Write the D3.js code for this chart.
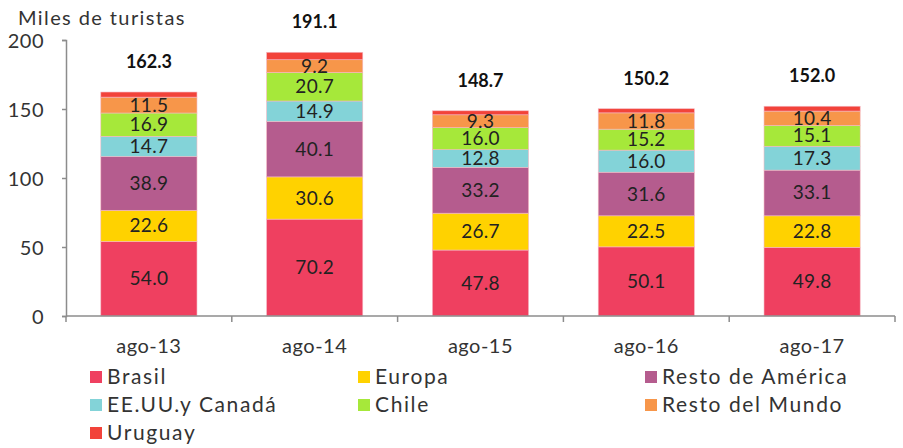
<!DOCTYPE html>
<html lang="es">
<head>
<meta charset="utf-8">
<title>Turistas</title>
<script src="https://d3js.org/d3.v7.min.js"></script>
<style>
body { margin: 0; background: #fff; }
text { font-family: Lato, "Open Sans", sans-serif; fill: #333; }
.axis path, .axis line { stroke: #8c8c8c; stroke-width: 1.5; }
.axis text { font-size: 20px; fill: #333; letter-spacing: 0.5px; }
</style>
</head>
<body>
<svg width="903" height="448"></svg>
<script>
var categories = ["ago-13", "ago-14", "ago-15", "ago-16", "ago-17"];
var seriesNames = ["Brasil", "Europa", "Resto de América", "EE.UU.y Canadá", "Chile", "Resto del Mundo", "Uruguay"];
var colors = ["#ef4060", "#ffd200", "#b55c8e", "#83d3d8", "#a6e83a", "#f7964a", "#f2433a"];

var brasil = [54.0, 70.2, 47.8, 50.1, 49.8];
var europa = [22.6, 30.6, 26.7, 22.5, 22.8];
var restoAmerica = [38.9, 40.1, 33.2, 31.6, 33.1];
var eeuuCanada = [14.7, 14.9, 12.8, 16.0, 17.3];
var chile = [16.9, 20.7, 16.0, 15.2, 15.1];
var restoMundo = [11.5, 9.2, 9.3, 11.8, 10.4];
var uruguay = [3.7, 5.4, 2.9, 3.0, 3.5];
var totals = [162.3, 191.1, 148.7, 150.2, 152.0];
var yTicks = [0, 50, 100, 150, 200];

var seriesValues = [brasil, europa, restoAmerica, eeuuCanada, chile, restoMundo, uruguay];

var rows = categories.map(function(c, i) {
  var r = {cat: c};
  seriesNames.forEach(function(s, j) { r[s] = seriesValues[j][i]; });
  return r;
});

var svg = d3.select("svg");
var margin = {left: 66, right: 8, top: 40, bottom: 132};
var width = 903 - margin.left - margin.right,
    height = 448 - margin.top - margin.bottom;

var g = svg.append("g").attr("transform", "translate(" + margin.left + "," + margin.top + ")");

var x = d3.scaleBand().domain(categories).range([0, width]).paddingInner(0.42).paddingOuter(0.21);
var xb = d3.scaleBand().domain(categories).range([0, width]);
var y = d3.scaleLinear().domain([0, 200]).range([height, 0]);

var stacked = d3.stack().keys(seriesNames)(rows);

var layer = g.selectAll(".layer").data(stacked).enter().append("g")
    .attr("fill", function(d, i) { return colors[i]; });

layer.selectAll("rect").data(function(d) { return d; }).enter().append("rect")
    .attr("x", function(d) { return x(d.data.cat); })
    .attr("width", x.bandwidth())
    .attr("y", function(d) { return y(d[1]); })
    .attr("height", function(d) { return y(d[0]) - y(d[1]); })
    .attr("stroke", "#f5b8c4")
    .attr("stroke-width", 0.6);

// etiquetas de cada tramo (sin Uruguay)
stacked.forEach(function(s, si) {
  if (si === 6) return;
  g.selectAll(".lbl" + si).data(s).enter().append("text")
      .attr("x", function(d) { return x(d.data.cat) + x.bandwidth() / 2; })
      .attr("y", function(d) { return (y(d[0]) + y(d[1])) / 2 + 6.5; })
      .attr("text-anchor", "middle")
      .style("font-size", "19px")
      .style("letter-spacing", "0.3px")
      .style("fill", "#222")
      .text(function(d) { return d3.format(".1f")(d[1] - d[0]); });
});

// totales
g.selectAll(".total").data(categories).enter().append("text")
    .attr("x", function(d) { return x(d) + x.bandwidth() / 2; })
    .attr("y", function(d, i) { return y(totals[i]) - 24; })
    .attr("text-anchor", "middle")
    .style("font-size", "18px")
    .style("font-weight", "bold")
    .style("fill", "#111")
    .text(function(d, i) { return d3.format(".1f")(totals[i]); });

// eje y
var yAxis = g.append("g").attr("class", "axis")
    .call(d3.axisLeft(y).tickValues(yTicks).tickSize(4).tickSizeOuter(4).tickPadding(18));
yAxis.selectAll("text").attr("dy", "0.35em");

// eje x con separadores
var xAxis = g.append("g").attr("class", "axis")
    .attr("transform", "translate(0," + height + ")");
xAxis.append("line").attr("x1", 0).attr("x2", width).attr("y1", 0).attr("y2", 0);
xAxis.selectAll(".sep").data(d3.range(categories.length + 1)).enter().append("line")
    .attr("x1", function(i) { return i * xb.step(); })
    .attr("x2", function(i) { return i * xb.step(); })
    .attr("y1", 0).attr("y2", 6);
xAxis.selectAll(".xl").data(categories).enter().append("text")
    .attr("x", function(d) { return xb(d) + xb.bandwidth() / 2; })
    .attr("y", 37)
    .attr("text-anchor", "middle")
    .text(function(d) { return d; });

// titulo eje y
svg.append("text").attr("x", 18).attr("y", 25)
    .style("font-size", "20px").style("letter-spacing", "1.4px").text("Miles de turistas");

// leyenda
var legendX = [90, 358, 645], legendY = [377, 405, 433];
var leg = svg.selectAll(".leg").data(seriesNames).enter().append("g")
    .attr("transform", function(d, i) { return "translate(" + legendX[i % 3] + "," + legendY[Math.floor(i / 3)] + ")"; });
leg.append("rect").attr("x", 0).attr("y", -6).attr("width", 12).attr("height", 12)
    .attr("fill", function(d, i) { return colors[i]; });
leg.append("text").attr("x", 17).attr("y", 7)
    .style("font-size", "21px")
    .style("letter-spacing", "1.6px")
    .text(function(d) { return d; });
</script>
</body>
</html>
